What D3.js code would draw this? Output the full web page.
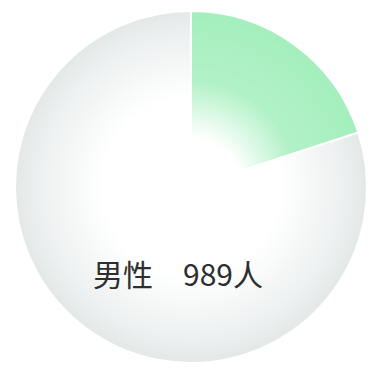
<!DOCTYPE html>
<html><head><meta charset="utf-8">
<script src="https://cdn.jsdelivr.net/npm/d3@7"></script>
<style>body{margin:0;background:#fff}svg{display:block}</style>
</head><body>
<script>
const categories = ["男性", "女性"];
const values = [989, 3956];
const colors = ["#a4efbd", "#e3e8e7"];

const W = 376, H = 369, cx = 191, cy = 187, R = 176;
const stopSets = [
  [[0, 0], [0.28, 0], [0.6, 0.85], [1, 1]],
  [[0, 0], [0.5, 0], [0.85, 0.6], [1, 1]]
];
const svg = d3.select("body").append("svg").attr("width", W).attr("height", H);
const defs = svg.append("defs");
colors.forEach((c, i) => {
  const g = defs.append("radialGradient").attr("id", "g" + i)
    .attr("gradientUnits", "userSpaceOnUse").attr("cx", 0).attr("cy", 0).attr("r", R);
  stopSets[i].forEach(([o, t]) => g.append("stop")
    .attr("offset", o).attr("stop-color", d3.interpolateRgb("#ffffff", c)(t)));
});
const pie = d3.pie().sort(null).value(d => d)(values);
const arc = d3.arc().innerRadius(0).outerRadius(R);
const g = svg.append("g").attr("transform", `translate(${cx},${cy})`);
g.selectAll("path").data(pie).join("path")
  .attr("d", arc)
  .attr("fill", (d, i) => `url(#g${i})`)
  .attr("stroke", "#ffffff").attr("stroke-width", 2);
svg.append("text").attr("x", 93).attr("y", 286)
  .attr("font-family", "'Noto Sans CJK SC', 'Noto Sans'")
  .attr("font-size", 30).attr("fill", "#2e2e2e")
  .text(`${categories[0]}　${values[0]}人`);
</script>
</body></html>
